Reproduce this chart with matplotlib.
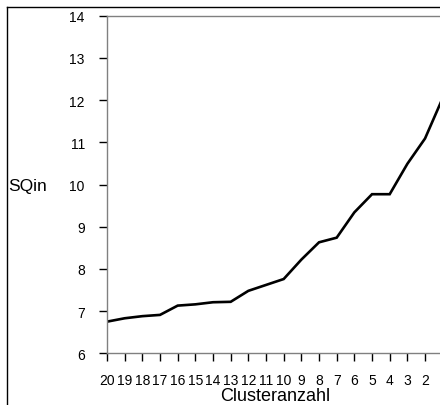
import numpy as np
import matplotlib
matplotlib.use("Agg")
import matplotlib.pyplot as plt
from matplotlib.lines import Line2D

plt.rcParams['font.family'] = ['Liberation Sans', 'DejaVu Sans']

# cluster counts (x categories) and SQin values
clusters = ['20', '19', '18', '17', '16', '15', '14', '13', '12', '11',
            '10', '9', '8', '7', '6', '5', '4', '3', '2', '1']
sqin = [6.75, 6.83, 6.88, 6.91, 7.13, 7.16, 7.21, 7.22, 7.48, 7.62,
        7.76, 8.22, 8.63, 8.74, 9.34, 9.77, 9.77, 10.49, 11.09, 12.05]
yticks = [6, 7, 8, 9, 10, 11, 12, 13, 14]

fig = plt.figure(figsize=(4.4, 4.06), dpi=100)
ax = fig.add_axes([107/440, 51.7/406, (442.7-107)/440, (354.3-16.7)/406])

x = np.arange(len(clusters))
ax.plot(x, sqin, color='black', lw=1.9, solid_joinstyle='miter')

ax.set_xlim(0, len(clusters) - 1)
ax.set_ylim(6, 14)
ax.set_xticks(x)
ax.set_xticklabels(clusters)
ax.set_yticks(yticks)

for s in ax.spines.values():
    s.set_color('#808080')
    s.set_linewidth(1.0)

ax.tick_params(axis='x', direction='out', length=6, width=1, color='black',
               pad=8, labelsize=10)
ax.tick_params(axis='y', direction='out', length=6, width=1, color='black',
               pad=10, labelsize=10)

ax.set_xlabel('Clusteranzahl', fontsize=13, labelpad=0)
fig.text(8/440, 1 - 186.5/406, 'SQin', fontsize=12.5, ha='left', va='center')

# outer frame of the original picture (only top and left are visible)
fig.add_artist(Line2D([7/440, 7/440], [0, 1 - 8/406], transform=fig.transFigure,
                      color='black', lw=1))
fig.add_artist(Line2D([7/440, 1], [1 - 8/406, 1 - 8/406], transform=fig.transFigure,
                      color='black', lw=1))

fig.savefig('out.png', dpi=100)
